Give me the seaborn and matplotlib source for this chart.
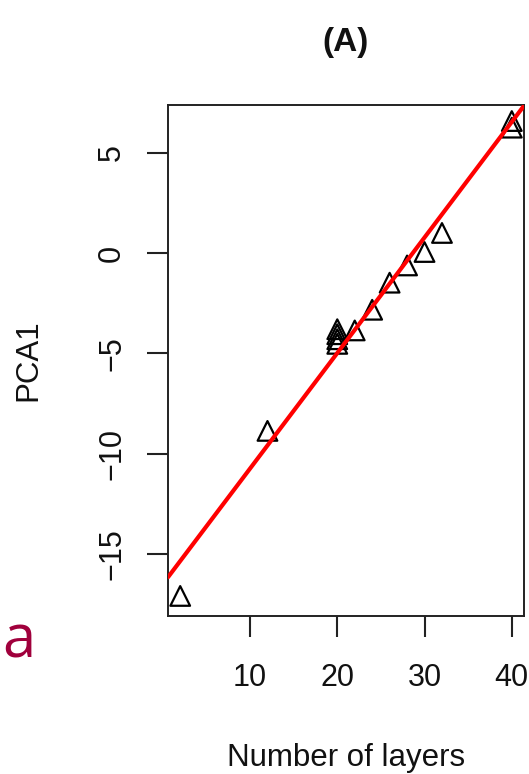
import matplotlib
matplotlib.use("Agg")
import matplotlib.pyplot as plt
import seaborn as sns
from pandas import DataFrame

# layers vs first principal component
layers = [2, 12, 20, 20, 20, 20, 22, 24, 26, 28, 30, 32, 40, 40]
pca1 = [-17.1, -8.87, -3.8, -4.05, -4.3, -4.53, -3.86, -2.83, -1.48, -0.62, 0.05, 1.0, 6.58, 6.25]
x_ticks = [10, 20, 30, 40]
y_ticks = [-15, -10, -5, 0, 5]

data = DataFrame({"layers": layers, "pca1": pca1})

sns.set_style("white")
plt.rcParams["font.family"] = ["Liberation Sans", "DejaVu Sans"]

fig = plt.figure(figsize=(5.29, 7.74), dpi=100)
ax = fig.add_axes([168 / 529, 1 - 616 / 774, 356 / 529, 511 / 774])
ax.set_xlim(0.6, 41.4)
ax.set_ylim(-18.1, 7.38)

sns.scatterplot(x="layers", y="pca1", data=data, ax=ax, marker="^", s=200,
                facecolor="none", edgecolor="black", linewidth=1.6, zorder=3)
sns.regplot(x="layers", y="pca1", data=data, ax=ax, scatter=False, ci=None,
            truncate=False, line_kws=dict(color="red", lw=3, zorder=4))

ax.set_xlim(0.6, 41.4)
ax.set_ylim(-18.1, 7.38)
ax.set_xticks(x_ticks)
ax.set_yticks(y_ticks)
ax.tick_params(bottom=True, left=True, direction="out", length=15, width=1.5,
               pad=19, labelsize=22, color="#222222", labelcolor="#111111")
ax.tick_params(axis="y", labelrotation=90, pad=14.5)
for lab in ax.get_yticklabels():
    lab.set_va("center")
for s in ax.spines.values():
    s.set_linewidth(1.4)
    s.set_color("#222222")

ax.set_xlabel("Number of layers", fontsize=22.5, color="#111111")
ax.set_ylabel("PCA1", fontsize=22.5, color="#111111")
ax.xaxis.set_label_coords(0.5, -0.2485)
ax.yaxis.set_label_coords(-0.351, 0.5)
ax.set_title("(A)", fontsize=24, fontweight="bold", color="#111111", pad=39)

fig.text(2 / 529, 1 - 657 / 774, "a", fontsize=43, color="#A0003C",
         family="Open Sans", va="baseline", ha="left")

plt.savefig("out.png", dpi=100)
